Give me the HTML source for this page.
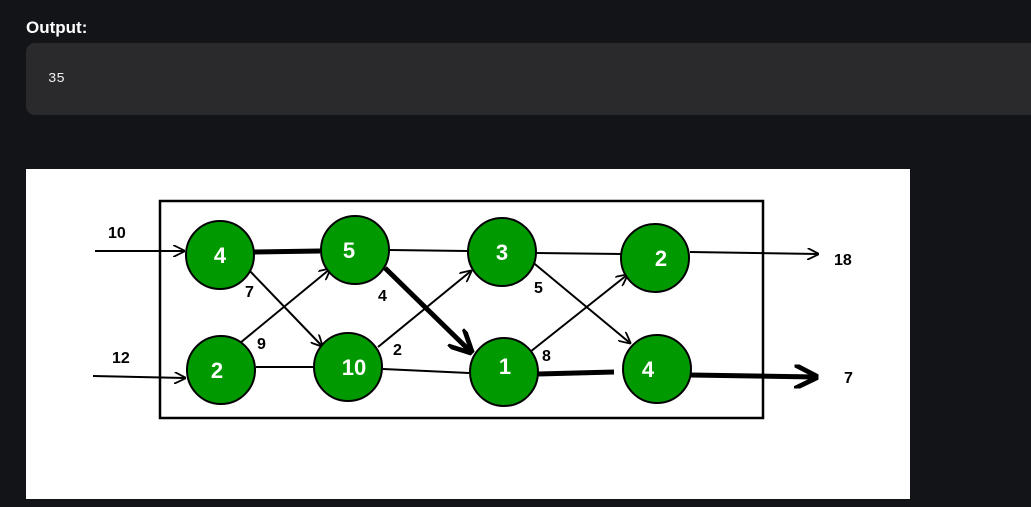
<!DOCTYPE html>
<html><head><meta charset="utf-8"><style>
body{margin:0;width:1031px;height:507px;background:#131417;overflow:hidden;position:relative;font-family:"Liberation Sans",sans-serif}
.title{position:absolute;left:26px;top:18px;color:#fff;font-weight:bold;font-size:17px}
.out{position:absolute;left:26px;top:43px;width:1020px;height:72px;background:#2a2a2c;border-radius:9px}
.out span{position:absolute;left:22px;top:28px;color:#eee;font-family:"Liberation Mono",monospace;font-size:14px}
svg{position:absolute;left:26px;top:169px}
</style></head><body>
<div class="title">Output:</div>
<div class="out"><span>35</span></div>
<svg width="884" height="330" viewBox="26 169 884 330">
<defs>
<marker id="a" viewBox="0 0 10 10" refX="9" refY="5" markerWidth="12" markerHeight="12" markerUnits="userSpaceOnUse" orient="auto"><path d="M0,0 L10,5 L0,10" fill="none" stroke="#000" stroke-width="1.5"/></marker>
<marker id="b" viewBox="0 0 10 10" refX="9" refY="5" markerWidth="24" markerHeight="24" markerUnits="userSpaceOnUse" orient="auto"><path d="M0,0 L10,5 L0,10" fill="none" stroke="#000" stroke-width="2"/></marker>
</defs>
<rect x="26" y="169" width="884" height="330" fill="#fff"/>
<rect x="160" y="201" width="603" height="217" fill="none" stroke="#000" stroke-width="2.5"/>
<g stroke="#000" fill="none" font-family="Liberation Sans">
<line x1="95" y1="251" x2="184" y2="251" stroke-width="2" marker-end="url(#a)"/>
<line x1="93" y1="376" x2="185" y2="378" stroke-width="2" marker-end="url(#a)"/>
<line x1="690" y1="252" x2="818" y2="254" stroke-width="2" marker-end="url(#a)"/>
<line x1="690" y1="375" x2="816" y2="377" stroke-width="5" marker-end="url(#b)"/>
<line x1="254" y1="252" x2="320" y2="251" stroke-width="5"/>
<line x1="247" y1="268" x2="322" y2="346" stroke-width="2" marker-end="url(#a)"/>
<line x1="240" y1="343" x2="330" y2="269" stroke-width="2" marker-end="url(#a)"/>
<line x1="256" y1="367" x2="314" y2="367" stroke-width="2"/>
<line x1="390" y1="250" x2="467" y2="251" stroke-width="2"/>
<line x1="385" y1="268" x2="471" y2="352" stroke-width="5" marker-end="url(#b)"/>
<line x1="378" y1="347" x2="471" y2="271" stroke-width="2" marker-end="url(#a)"/>
<line x1="383" y1="369" x2="469" y2="373" stroke-width="2"/>
<line x1="536" y1="253" x2="622" y2="254" stroke-width="2"/>
<line x1="530" y1="260" x2="630" y2="343" stroke-width="2" marker-end="url(#a)"/>
<line x1="530" y1="352" x2="627" y2="275" stroke-width="2" marker-end="url(#a)"/>
<line x1="538" y1="374" x2="614" y2="372" stroke-width="5"/>
</g>
<g font-family="Liberation Sans" font-weight="bold" font-size="16" fill="#000">
<text x="108" y="238">10</text><text x="112" y="363">12</text>
<text x="834" y="265">18</text><text x="844" y="383">7</text>
<text x="245" y="297">7</text><text x="257" y="349">9</text>
<text x="378" y="301">4</text><text x="393" y="355">2</text>
<text x="534" y="293">5</text><text x="542" y="361">8</text>
</g>
<g stroke="#000" stroke-width="2" fill="#009900">
<circle cx="220" cy="255" r="34"/>
<circle cx="355" cy="250" r="34"/>
<circle cx="502" cy="252" r="34"/>
<circle cx="655" cy="258" r="34"/>
<circle cx="221" cy="370" r="34"/>
<circle cx="348" cy="367" r="34"/>
<circle cx="504" cy="372" r="34"/>
<circle cx="657" cy="369" r="34"/>
</g>
<g font-family="Liberation Sans" font-weight="bold" font-size="22" fill="#fff" text-anchor="middle">
<text x="220" y="263">4</text><text x="349" y="258">5</text><text x="502" y="260">3</text><text x="661" y="266">2</text>
<text x="217" y="378">2</text><text x="354" y="375">10</text><text x="505" y="374">1</text><text x="648" y="377">4</text>
</g>
</svg>
</body></html>
